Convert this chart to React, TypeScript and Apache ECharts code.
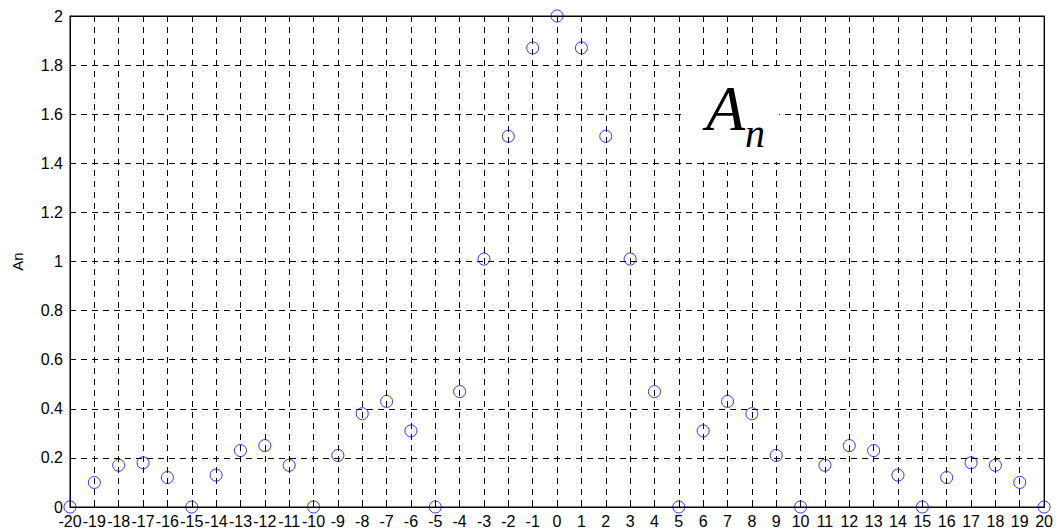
import React, { useEffect, useRef } from "react";
import * as echarts from "echarts";

const nValues = [
  -20, -19, -18, -17, -16, -15, -14, -13, -12, -11, -10, -9, -8, -7, -6, -5, -4, -3, -2, -1,
  0, 1, 2, 3, 4, 5, 6, 7, 8, 9, 10, 11, 12, 13, 14, 15, 16, 17, 18, 19, 20,
];
const anValues = [
  0, 0.1, 0.17, 0.18, 0.12, 0, 0.13, 0.23, 0.25, 0.17, 0, 0.21, 0.38, 0.43, 0.31, 0, 0.47, 1.01, 1.51, 1.87,
  2.0, 1.87, 1.51, 1.01, 0.47, 0, 0.31, 0.43, 0.38, 0.21, 0, 0.17, 0.25, 0.23, 0.13, 0, 0.12, 0.18, 0.17, 0.1, 0,
];
const yAxisName = "An";
const annotationMain = "A";
const annotationSub = "n";

export default function App() {
  const ref = useRef<HTMLDivElement>(null);
  useEffect(() => {
    if (!ref.current) return;
    const chart = echarts.init(ref.current, undefined, { renderer: "svg" });
    const labelFont = { fontFamily: "'Liberation Sans', Arial, sans-serif", fontSize: 16, color: "#000" };
    const gridLine = { show: true, lineStyle: { color: "#000", width: 1, type: [6, 5] as any } };
    const tick = { show: true, inside: true, length: 6, lineStyle: { color: "#000" } };
    const serif = "'Liberation Serif', 'Times New Roman', serif";
    chart.setOption({
      animation: false,
      backgroundColor: "#fff",
      grid: {
        left: 70,
        right: 6,
        top: 16,
        bottom: 25,
        show: true,
        borderColor: "#000",
        borderWidth: 1,
        backgroundColor: "transparent",
      },
      xAxis: [
        {
          type: "value",
          min: -20,
          max: 20,
          interval: 1,
          axisLine: { show: true, onZero: false, lineStyle: { color: "#000" } },
          axisTick: tick,
          splitLine: gridLine,
          axisLabel: { ...labelFont, margin: 6, showMinLabel: true, showMaxLabel: true, hideOverlap: false },
        },
        {
          type: "value",
          position: "top",
          min: -20,
          max: 20,
          interval: 1,
          axisLine: { show: true, onZero: false, lineStyle: { color: "#000" } },
          axisTick: tick,
          splitLine: { show: false },
          axisLabel: { show: false },
        },
      ],
      yAxis: [
        {
          type: "value",
          min: 0,
          max: 2,
          interval: 0.2,
          name: yAxisName,
          nameLocation: "middle",
          nameGap: 45,
          nameRotate: 90,
          nameTextStyle: { fontFamily: "'Liberation Sans', Arial, sans-serif", fontSize: 15, color: "#000" },
          axisLine: { show: true, onZero: false, lineStyle: { color: "#000" } },
          axisTick: tick,
          splitLine: gridLine,
          axisLabel: { ...labelFont, margin: 7, formatter: (v: number) => String(Math.round(v * 10) / 10) },
        },
        {
          type: "value",
          position: "right",
          min: 0,
          max: 2,
          interval: 0.2,
          axisLine: { show: true, onZero: false, lineStyle: { color: "#000" } },
          axisTick: tick,
          splitLine: { show: false },
          axisLabel: { show: false },
        },
      ],
      series: [
        {
          type: "scatter",
          data: nValues.map((n, i) => [n, anValues[i]]),
          symbol: "circle",
          symbolSize: 12,
          clip: false,
          itemStyle: { color: "rgba(0,0,0,0)", borderColor: "#0000ff", borderWidth: 1 },
          z: 5,
        },
      ],
      graphic: [
        {
          type: "rect",
          shape: { x: 684, y: 67, width: 95, height: 95 },
          style: { fill: "#fff" },
          z: 3,
        },
        {
          type: "text",
          x: 706,
          y: 108,
          z: 4,
          style: {
            text: "{a|" + annotationMain + "}{b|" + annotationSub + "}",
            fill: "#000",
            align: "left",
            verticalAlign: "middle",
            rich: {
              a: {
                fontFamily: serif,
                fontStyle: "italic",
                fontSize: 64,
                lineHeight: 64,
                verticalAlign: "middle",
                fill: "#000",
              },
              b: {
                fontFamily: serif,
                fontStyle: "italic",
                fontSize: 40,
                lineHeight: 14,
                verticalAlign: "top",
                padding: [37, 0, 0, 0],
                fill: "#000",
              },
            },
          },
        },
      ],
    });
    return () => chart.dispose();
  }, []);
  return <div ref={ref} style={{ position: "absolute", left: 0, top: 0, width: 1056, height: 532 }} />;
}
